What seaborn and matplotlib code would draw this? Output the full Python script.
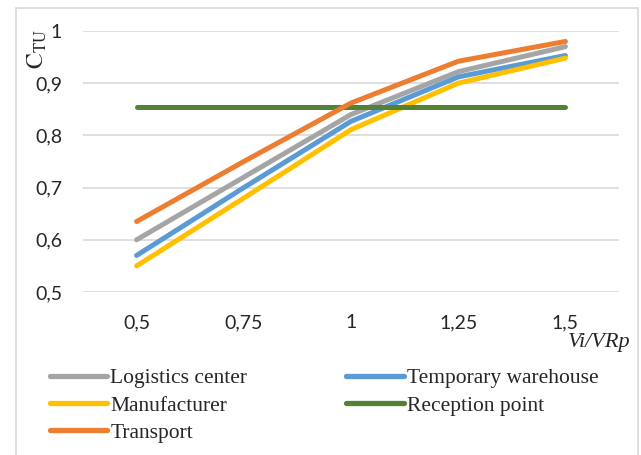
import pandas as pd
import matplotlib.pyplot as plt
import matplotlib.patches as mpatches
import seaborn as sns

# ── Data ──────────────────────────────────────
ratios = ['0,5', '0,75', '1', '1,25', '1,5']
logistics_center = [0.60, 0.72, 0.84, 0.922, 0.97]
temporary_warehouse = [0.57, 0.70, 0.827, 0.912, 0.953]
manufacturer = [0.55, 0.68, 0.811, 0.90, 0.948]
reception_point = [0.855, 0.855, 0.855, 0.855, 0.855]
transport = [0.635, 0.75, 0.862, 0.942, 0.98]

series_names = ['Logistics center', 'Temporary warehouse', 'Manufacturer',
                'Reception point', 'Transport']
series_values = [logistics_center, temporary_warehouse, manufacturer,
                 reception_point, transport]
colors = ['#A5A5A5', '#5B9BD5', '#FFC000', '#548235', '#ED7D31']

df = pd.concat([pd.DataFrame({'ratio': ratios, 'value': vals, 'series': name})
                for name, vals in zip(series_names, series_values)],
               ignore_index=True)

# ── Style ─────────────────────────────────────
sns.set_theme(style='white')
plt.rcParams['font.family'] = ['Lato', 'DejaVu Sans']
plt.rcParams['mathtext.fontset'] = 'stix'
plt.rcParams['lines.solid_capstyle'] = 'round'

fig = plt.figure(figsize=(6.41, 4.55), dpi=100)
ax = fig.add_axes([83 / 641, 1 - 292 / 455, 536 / 641, 261 / 455])

sns.lineplot(data=df, x='ratio', y='value', hue='series',
             hue_order=series_names, palette=colors, linewidth=3.6,
             sort=False, ax=ax, legend=False)

ax.set_xlim(-0.5, len(ratios) - 0.5)
ax.set_ylim(0.5, 1.0)
yticks = [0.5, 0.6, 0.7, 0.8, 0.9, 1.0]
ax.set_yticks(yticks)
ax.set_yticklabels(['0,5', '0,6', '0,7', '0,8', '0,9', '1'])
ax.tick_params(axis='both', labelsize=14, colors='#262626', length=0)
ax.tick_params(axis='y', pad=15)
ax.tick_params(axis='x', pad=16)
ax.yaxis.grid(True, color='#D9D9D9', linewidth=1.2)
ax.set_axisbelow(True)
for s in ax.spines.values():
    s.set_visible(False)
ax.set_xlabel('')
ax.set_ylabel('')

# axis titles
fig.text(37 / 641, 1 - 49 / 455, r'$\mathrm{C}_{\mathrm{TU}}$', rotation=90,
         fontsize=17, ha='center', va='center')
fig.text(630 / 641, 1 - 342 / 455, 'Vi/VRp', family='Liberation Serif',
         style='italic', fontsize=16, ha='right', va='center')

# legend (row-wise order like Excel)
handles = [plt.Line2D([], [], color=c, linewidth=3.8) for c in colors]
order = [0, 2, 4, 1, 3]
fig.legend([handles[i] for i in order], [series_names[i] for i in order],
           loc='upper left', bbox_to_anchor=(31 / 641, 1 - 349 / 455),
           ncol=2, frameon=False, handlelength=2.65, handletextpad=0.14,
           columnspacing=4.6, labelspacing=0.33,
           prop={'family': 'Liberation Serif', 'size': 15.5})

# outer chart border
fig.patches.append(mpatches.Rectangle((16 / 641, -0.05), 622 / 641, 1 - 8 / 455 + 0.05,
                                      transform=fig.transFigure, fill=False,
                                      edgecolor='#D9D9D9', linewidth=1.2))

plt.savefig('out.png', dpi=100)
plt.close()
